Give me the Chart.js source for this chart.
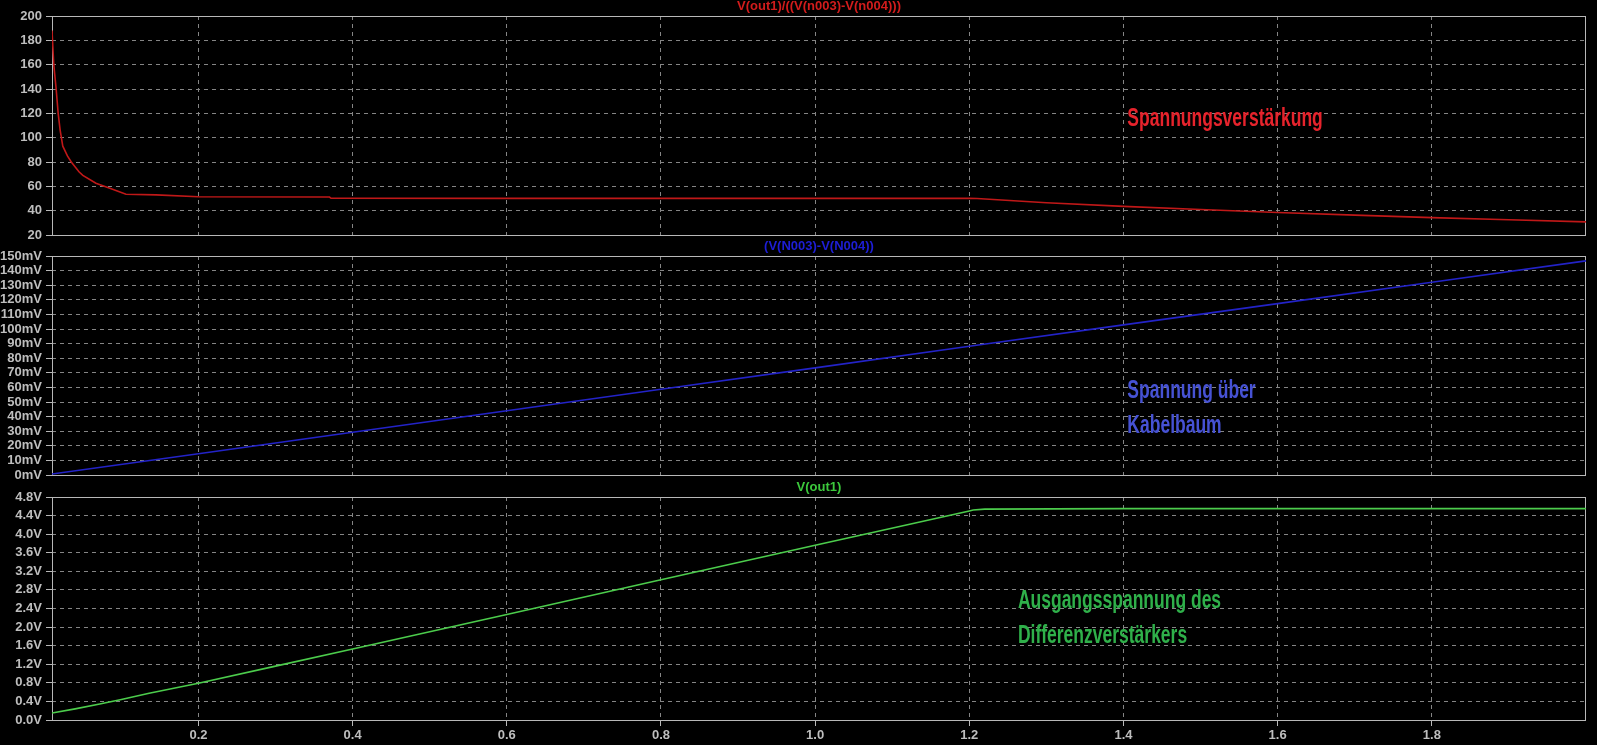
<!DOCTYPE html>
<html>
<head>
<meta charset="utf-8">
<script src="https://cdn.jsdelivr.net/npm/chart.js@4.4.1/dist/chart.umd.min.js"></script>
<style>
html,body{margin:0;padding:0;background:#000;overflow:hidden}
#wrap{position:relative;width:1597px;height:745px;background:#000}
canvas{position:absolute;left:0}
</style>
</head>
<body>
<div id="wrap">
  <canvas id="c1" width="1597" height="250" style="top:0"></canvas>
  <canvas id="c2" width="1597" height="254" style="top:236px"></canvas>
  <canvas id="c3" width="1597" height="269" style="top:476px"></canvas>
</div>
<script>
// sweep axis (V)
const X_MIN = 0.01, X_MAX = 2.0;
const X_TICKS = [0.2, 0.4, 0.6, 0.8, 1.0, 1.2, 1.4, 1.6, 1.8];

// V(out1)/((V(n003)-V(n004)))  -- gain
const gainX = [0.01, 0.0123, 0.0154, 0.018, 0.0206, 0.024, 0.03, 0.035, 0.045, 0.05, 0.067, 0.085, 0.106, 0.145, 0.2, 0.37, 0.372, 0.6, 0.8, 1.0, 1.2, 1.21, 1.3, 1.4, 1.5, 1.6, 1.7, 1.8, 1.9, 2.0];
const gainY = [188, 160, 140, 120, 106, 93, 85, 80, 72, 69, 62.5, 58.4, 53.5, 53, 51.5, 51.2, 50.2, 50.1, 50.1, 50.1, 50.1, 50, 46.5, 43.5, 41, 38.5, 36.3, 34.3, 32.5, 30.8];
const gainTicks = [20, 40, 60, 80, 100, 120, 140, 160, 180, 200];

// (V(N003)-V(N004)) in mV
const diffX = [0.01, 0.2, 0.4, 0.6, 0.8, 1.0, 1.2, 1.4, 1.6, 1.8, 2.0];
const diffMv = [0.7, 14.6, 29.3, 44, 58.7, 73.4, 88.2, 102.8, 117.4, 132, 146.7];
const diffTicks = [0, 10, 20, 30, 40, 50, 60, 70, 80, 90, 100, 110, 120, 130, 140, 150];

// V(out1) in V
const outX = [0.01, 0.04, 0.072, 0.1, 0.136, 0.2, 0.3, 0.4, 0.6, 0.8, 1.0, 1.2, 1.205, 1.22, 1.4, 1.6, 1.8, 2.0];
const outV = [0.15, 0.24, 0.345, 0.44, 0.575, 0.79, 1.16, 1.53, 2.27, 3.02, 3.76, 4.50, 4.52, 4.54, 4.55, 4.55, 4.55, 4.55];
const outTicks = [0, 0.4, 0.8, 1.2, 1.6, 2.0, 2.4, 2.8, 3.2, 3.6, 4.0, 4.4, 4.8];

const GRID = '#858585', FRAME = '#b8b8b8', LABEL = '#bebebe';
const tickFont = {family: '"Liberation Sans", Arial, sans-serif', size: 13, weight: 'bold'};

function pts(xs, ys){ return xs.map((x,i)=>({x, y: ys[i]})); }

// frame + title + free text notes
const panePlugin = {
  id: 'pane',
  beforeDatasetsDraw(chart, args, o){
    const a = chart.chartArea, ctx = chart.ctx;
    ctx.save();
    ctx.strokeStyle = FRAME; ctx.lineWidth = 1;
    ctx.strokeRect(a.left + 0.5, a.top + 0.5, a.right - a.left - 1, a.bottom - a.top);
    ctx.restore();
  },
  afterDraw(chart, args, o){
    const a = chart.chartArea, ctx = chart.ctx;
    ctx.save();
    ctx.font = 'bold 13px "Liberation Sans", Arial, sans-serif';
    ctx.fillStyle = o.titleColor;
    ctx.textAlign = 'center'; ctx.textBaseline = 'middle';
    ctx.fillText(o.title, (a.left + a.right) / 2, a.top - 9.5);
    const xs = chart.scales.x, ys = chart.scales.y;
    (o.notes || []).forEach(n => {
      const px = xs.getPixelForValue(n.x), py = ys.getPixelForValue(n.y);
      ctx.font = 'bold 25px "Liberation Sans", Arial, sans-serif';
      ctx.fillStyle = n.color;
      ctx.textAlign = 'left'; ctx.textBaseline = 'alphabetic';
      n.lines.forEach((t, i) => {
        ctx.save();
        ctx.translate(px, py + i * 35);
        ctx.scale(0.7, 1);
        ctx.fillText(t, 0, 0);
        ctx.restore();
      });
    });
    ctx.restore();
  }
};

function makePane(id, cfg){
  return new Chart(document.getElementById(id), {
    type: 'line',
    data: {datasets: [{data: cfg.data, borderColor: cfg.color, borderWidth: 1.6, pointRadius: 0, tension: 0, fill: false}]},
    plugins: [panePlugin],
    options: {
      responsive: false, animation: false,
      layout: {padding: cfg.padding},
      plugins: {
        legend: {display: false}, tooltip: {enabled: false},
        pane: {title: cfg.title, titleColor: cfg.titleColor, notes: cfg.notes}
      },
      scales: {
        x: {
          type: 'linear', min: X_MIN, max: X_MAX,
          afterBuildTicks: s => { s.ticks = X_TICKS.map(v => ({value: v})); },
          afterFit: s => { s.height = cfg.showX ? 25 : 0; s.paddingLeft = 0; s.paddingRight = 0; },
          ticks: {display: cfg.showX, color: LABEL, font: tickFont, padding: 2, maxRotation: 0, autoSkip: false,
                  callback: v => v.toFixed(1)},
          grid: {color: GRID, lineWidth: 1, drawTicks: cfg.showX, tickLength: 6, tickColor: FRAME, tickBorderDash: [], borderDash: [4, 4]},
          border: {display: false, dash: [4, 4]}
        },
        y: {
          type: 'linear', min: cfg.ticks[0], max: cfg.ticks[cfg.ticks.length - 1],
          afterBuildTicks: s => { s.ticks = cfg.ticks.map(v => ({value: v})); },
          afterFit: s => { s.width = 52; s.paddingTop = 0; s.paddingBottom = 0; },
          ticks: {color: LABEL, font: tickFont, padding: 4, autoSkip: false, callback: cfg.fmt},
          grid: {color: GRID, lineWidth: 1, drawTicks: true, tickLength: 6, tickColor: FRAME, tickBorderDash: [], borderDash: [4, 4]},
          border: {display: false, dash: [4, 4]}
        }
      }
    }
  });
}

makePane('c1', {
  data: pts(gainX, gainY), color: '#c01818', ticks: gainTicks, fmt: v => String(v),
  title: 'V(out1)/((V(n003)-V(n004)))', titleColor: '#d21c1c',
  padding: {top: 16, bottom: 15, left: 0, right: 11}, showX: false,
  notes: [{lines: ['Spannungsverstärkung'], x: 1.405, y: 109.6, color: '#e6232c'}]
});

makePane('c2', {
  data: pts(diffX, diffMv), color: '#2323c8', ticks: diffTicks, fmt: v => v + 'mV',
  title: '(V(N003)-V(N004))', titleColor: '#1e1ed6',
  padding: {top: 20, bottom: 15, left: 0, right: 11}, showX: false,
  notes: [{lines: ['Spannung über', 'Kabelbaum'], x: 1.405, y: 52.9, color: '#4652d4'}]
});

makePane('c3', {
  data: pts(outX, outV), color: '#4ccc4c', ticks: outTicks, fmt: v => v.toFixed(1) + 'V',
  title: 'V(out1)', titleColor: '#3cc83c',
  padding: {top: 21, bottom: 0, left: 0, right: 11}, showX: true,
  notes: [{lines: ['Ausgangsspannung des', 'Differenzverstärkers'], x: 1.263, y: 2.41, color: '#2fb04a'}]
});
</script>
</body>
</html>
